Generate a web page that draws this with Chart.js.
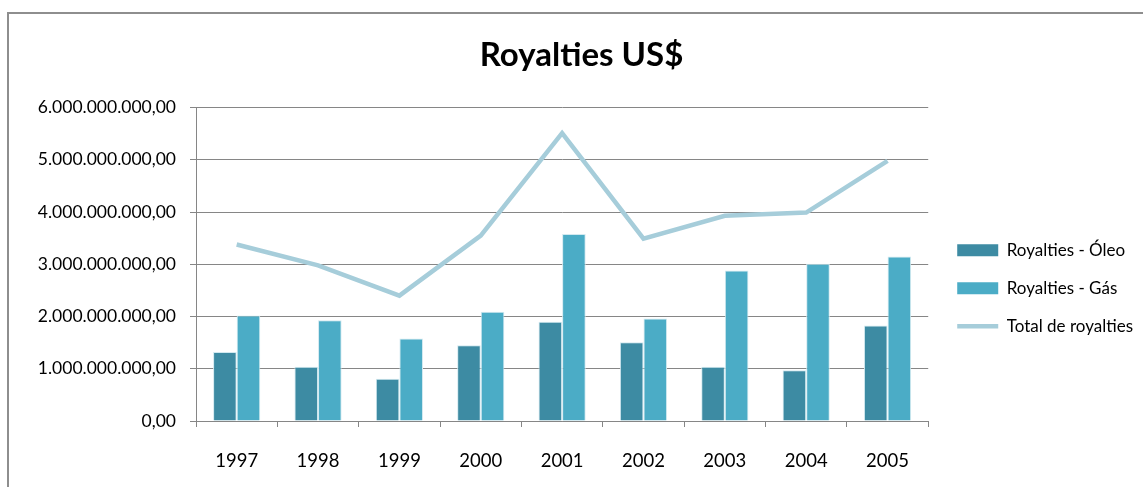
<!DOCTYPE html>
<html>
<head>
<meta charset="utf-8">
<script src="https://cdn.jsdelivr.net/npm/chart.js@4/dist/chart.umd.min.js"></script>
<style>
  html, body { margin: 0; padding: 0; background: #fff; }
  #wrap { position: relative; width: 1143px; height: 487px; overflow: hidden; }
  #frame { position: absolute; left: 7px; top: 12px; width: 1300px; height: 700px; border: 2px solid #8e8e8e; }
  canvas { position: absolute; left: 0; top: 0; }
</style>
</head>
<body>
<div id="wrap">
  <div id="frame"></div>
  <canvas id="myChart" width="1143" height="487"></canvas>
</div>
<script>
// anos e valores em US$
const anos = ['1997', '1998', '1999', '2000', '2001', '2002', '2003', '2004', '2005'];
const royaltiesOleo = [1.32e9, 1.04e9, 0.81e9, 1.45e9, 1.90e9, 1.51e9, 1.04e9, 0.97e9, 1.83e9];
const royaltiesGas = [2.02e9, 1.93e9, 1.58e9, 2.09e9, 3.58e9, 1.96e9, 2.88e9, 3.01e9, 3.15e9];
const totalRoyalties = [3.38e9, 2.98e9, 2.40e9, 3.55e9, 5.51e9, 3.49e9, 3.93e9, 3.99e9, 4.98e9];
const eixoYMax = 6e9;
const eixoYPasso = 1e9;

const fonte = 'Lato, "Open Sans", sans-serif';
const cinza = '#868686';

// 1234567,5 -> "1.234.567,50"
function formatoBR(v) {
  const partes = Number(v).toFixed(2).split('.');
  partes[0] = partes[0].replace(/\B(?=(\d{3})+(?!\d))/g, '.');
  return partes.join(',');
}

// afasta a legenda um pouco mais do gráfico
const folgaLegenda = 8;
const ajusteLegenda = {
  id: 'ajusteLegenda',
  beforeLayout(chart) {
    const lg = chart.legend;
    if (lg && !lg._ajustado) {
      const fitOriginal = lg.fit.bind(lg);
      lg.fit = function () { fitOriginal(); this.width += folgaLegenda; };
      lg._ajustado = true;
    }
  },
  afterLayout(chart) {
    chart.legend.left += folgaLegenda;
    chart.legend.right += folgaLegenda;
  }
};

const ctx = document.getElementById('myChart').getContext('2d');
new Chart(ctx, {
  type: 'bar',
  data: {
    labels: anos,
    datasets: [{
      label: 'Royalties - Óleo',
      data: royaltiesOleo,
      backgroundColor: '#3d8ba3',
      borderColor: '#d2e9f0',
      borderWidth: 1,
      categoryPercentage: 0.58,
      barPercentage: 1.0
    }, {
      label: 'Royalties - Gás',
      data: royaltiesGas,
      backgroundColor: '#4bacc6',
      borderColor: '#d2e9f0',
      borderWidth: 1,
      categoryPercentage: 0.58,
      barPercentage: 1.0
    }, {
      type: 'line',
      label: 'Total de royalties',
      data: totalRoyalties,
      borderColor: '#a6cdda',
      backgroundColor: '#a6cdda',
      borderWidth: 4.5,
      pointRadius: 0,
      tension: 0,
      fill: false
    }]
  },
  options: {
    responsive: false,
    animation: false,
    layout: { padding: { left: 20, right: 0, top: 0, bottom: 0 } },
    plugins: {
      title: {
        display: true,
        text: 'Royalties US$',
        color: '#000',
        font: { family: fonte, size: 33, weight: 'bold' },
        padding: { top: 36, bottom: 32 }
      },
      legend: {
        position: 'right',
        // título vazio só para descer os itens
        title: { display: true, text: ' ', font: { size: 12 }, padding: { top: 75, bottom: 0 } },
        labels: {
          color: '#000',
          font: { family: fonte, size: 17 },
          usePointStyle: true,
          pointStyleWidth: 41,
          boxHeight: 12,
          padding: 21,
          generateLabels(chart) {
            const itens = Chart.defaults.plugins.legend.labels.generateLabels(chart);
            itens.forEach(item => {
              const ds = chart.data.datasets[item.datasetIndex];
              item.pointStyle = ds.type === 'line' ? 'line' : 'rect';
              if (ds.type !== 'line') item.lineWidth = 0;
            });
            return itens;
          }
        }
      },
      tooltip: { enabled: false }
    },
    scales: {
      x: {
        afterFit(scale) { scale.height = 66; },
        grid: { drawOnChartArea: false, color: cinza, tickLength: 6 },
        border: { color: cinza },
        ticks: { color: '#000', font: { family: fonte, size: 18.5 }, padding: 23 }
      },
      y: {
        min: 0,
        max: eixoYMax,
        afterFit(scale) { scale.width = 176; },
        grid: { color: cinza, tickLength: 6 },
        border: { color: cinza },
        ticks: {
          stepSize: eixoYPasso,
          color: '#000',
          font: { family: fonte, size: 17.5 },
          padding: 14,
          callback: v => formatoBR(v)
        }
      }
    }
  },
  plugins: [ajusteLegenda]
});
</script>
</body>
</html>
